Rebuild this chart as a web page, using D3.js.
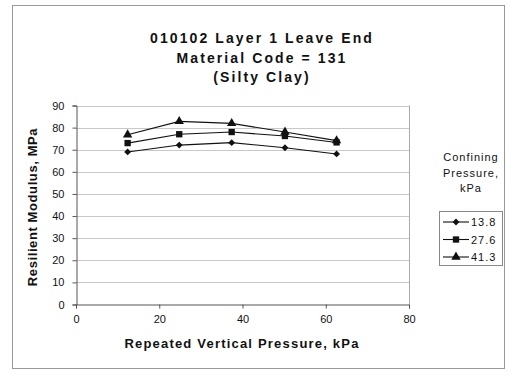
<!DOCTYPE html>
<html>
<head>
<meta charset="utf-8">
<script src="https://cdn.jsdelivr.net/npm/d3@7"></script>
<style>
  body { margin: 0; background: #fff; }
  text { font-family: "Liberation Sans", Arial, sans-serif; fill: #111; }
</style>
</head>
<body>
<script>
// chart data
var pressures = [12.4, 24.8, 37.4, 50.2, 62.6]; // repeated vertical pressure, kPa
var series13 = [69.0, 72.1, 73.2, 70.9, 68.1];
var series27 = [73.0, 77.0, 78.0, 76.2, 73.3];
var series41 = [76.8, 82.8, 81.9, 78.0, 74.1];
var seriesNames = ["13.8", "27.6", "41.3"];
var seriesShapes = [d3.symbolDiamond2, d3.symbolSquare, d3.symbolTriangle];
var xTicks = [0, 20, 40, 60, 80];
var yTicks = [0, 10, 20, 30, 40, 50, 60, 70, 80, 90];
var titleLines = ["010102 Layer 1 Leave End", "Material Code = 131", "(Silty Clay)"];

window.onload = function(){
    var w = 515, h = 380;
    var svg = d3.select("body").append("svg")
        .attr("width", w)
        .attr("height", h);

    //outer frame
    svg.append("rect")
        .attr("x", 12.5).attr("y", 5.5)
        .attr("width", 492).attr("height", 363)
        .attr("fill", "#fff")
        .attr("stroke", "#999");

    var left = 76, right = 409, top = 105.5, bottom = 304.5;
    var x = d3.scaleLinear().domain([0, 80]).range([left, right]);
    var y = d3.scaleLinear().domain([0, 90]).range([bottom, top]);

    //gridlines
    svg.append("g").selectAll("line")
        .data(yTicks.slice(1))
        .enter().append("line")
        .attr("x1", left).attr("x2", right)
        .attr("y1", function(d){ return Math.round(y(d)) + 0.5; })
        .attr("y2", function(d){ return Math.round(y(d)) + 0.5; })
        .attr("stroke", "#c8c8c8");

    //plot border right
    svg.append("line")
        .attr("x1", right + 0.5).attr("x2", right + 0.5)
        .attr("y1", top).attr("y2", bottom)
        .attr("stroke", "#aaa");

    //axes
    var xAxis = d3.axisBottom(x).tickValues(xTicks).tickSize(4).tickPadding(7);
    var yAxis = d3.axisLeft(y).tickValues(yTicks).tickSize(4).tickPadding(8);

    var gx = svg.append("g")
        .attr("transform", "translate(0," + bottom + ")")
        .call(xAxis);
    var gy = svg.append("g")
        .attr("transform", "translate(" + (left + 0.5) + ",0)")
        .call(yAxis);
    [gx, gy].forEach(function(g){
        g.select(".domain").attr("stroke", "#555");
        g.selectAll(".tick line").attr("stroke", "#555");
        g.selectAll("text")
            .style("font-family", "'Liberation Sans', Arial, sans-serif")
            .style("font-size", "11px")
            .attr("fill", "#222");
    });

    //lines and markers
    var allSeries = [series13, series27, series41];
    var line = d3.line()
        .x(function(d, i){ return x(pressures[i]); })
        .y(function(d){ return y(d); });
    var symbolSizes = [30, 40, 38];

    allSeries.forEach(function(s, k){
        svg.append("path")
            .datum(s)
            .attr("d", line)
            .attr("fill", "none")
            .attr("stroke", "#111")
            .attr("stroke-width", 1.1);
        svg.append("g").selectAll("path")
            .data(s)
            .enter().append("path")
            .attr("d", d3.symbol().type(seriesShapes[k]).size(symbolSizes[k]))
            .attr("transform", function(d, i){
                return "translate(" + x(pressures[i]) + "," + y(d) + ")";
            })
            .attr("fill", "#111");
    });

    //title
    svg.append("g").selectAll("text")
        .data(titleLines)
        .enter().append("text")
        .attr("x", 262)
        .attr("y", function(d, i){ return 43 + i * 19.5; })
        .attr("text-anchor", "middle")
        .style("font-size", "14px")
        .style("font-weight", "bold")
        .style("letter-spacing", "2.1px")
        .text(function(d){ return d; });

    //axis titles
    svg.append("text")
        .attr("x", 242).attr("y", 348)
        .attr("text-anchor", "middle")
        .style("font-size", "13px")
        .style("font-weight", "bold")
        .style("letter-spacing", "1.2px")
        .text("Repeated Vertical Pressure, kPa");

    svg.append("text")
        .attr("transform", "translate(37,207) rotate(-90)")
        .attr("text-anchor", "middle")
        .style("font-size", "13px")
        .style("font-weight", "bold")
        .style("letter-spacing", "0.6px")
        .text("Resilient Modulus, MPa");

    //legend title
    svg.append("g").selectAll("text")
        .data(["Confining", "Pressure,", "kPa"])
        .enter().append("text")
        .attr("x", 471)
        .attr("y", function(d, i){ return 161 + i * 15.5; })
        .attr("text-anchor", "middle")
        .style("font-size", "11px")
        .style("letter-spacing", "1px")
        .text(function(d){ return d; });

    //legend box
    svg.append("rect")
        .attr("x", 439.5).attr("y", 211.5)
        .attr("width", 63).attr("height", 54)
        .attr("fill", "#fff")
        .attr("stroke", "#888");

    var legend = svg.append("g").selectAll("g")
        .data(seriesNames)
        .enter().append("g")
        .attr("transform", function(d, i){ return "translate(0," + (222 + i * 17.5) + ")"; });
    legend.append("line")
        .attr("x1", 443).attr("x2", 469)
        .attr("stroke", "#111").attr("stroke-width", 1.1);
    legend.append("path")
        .attr("d", function(d, i){ return d3.symbol().type(seriesShapes[i]).size(symbolSizes[i])(); })
        .attr("transform", "translate(456,0)")
        .attr("fill", "#111");
    legend.append("text")
        .attr("x", 471).attr("y", 4)
        .style("font-size", "11px")
        .style("letter-spacing", "1px")
        .text(function(d){ return d; });
};
</script>
</body>
</html>
